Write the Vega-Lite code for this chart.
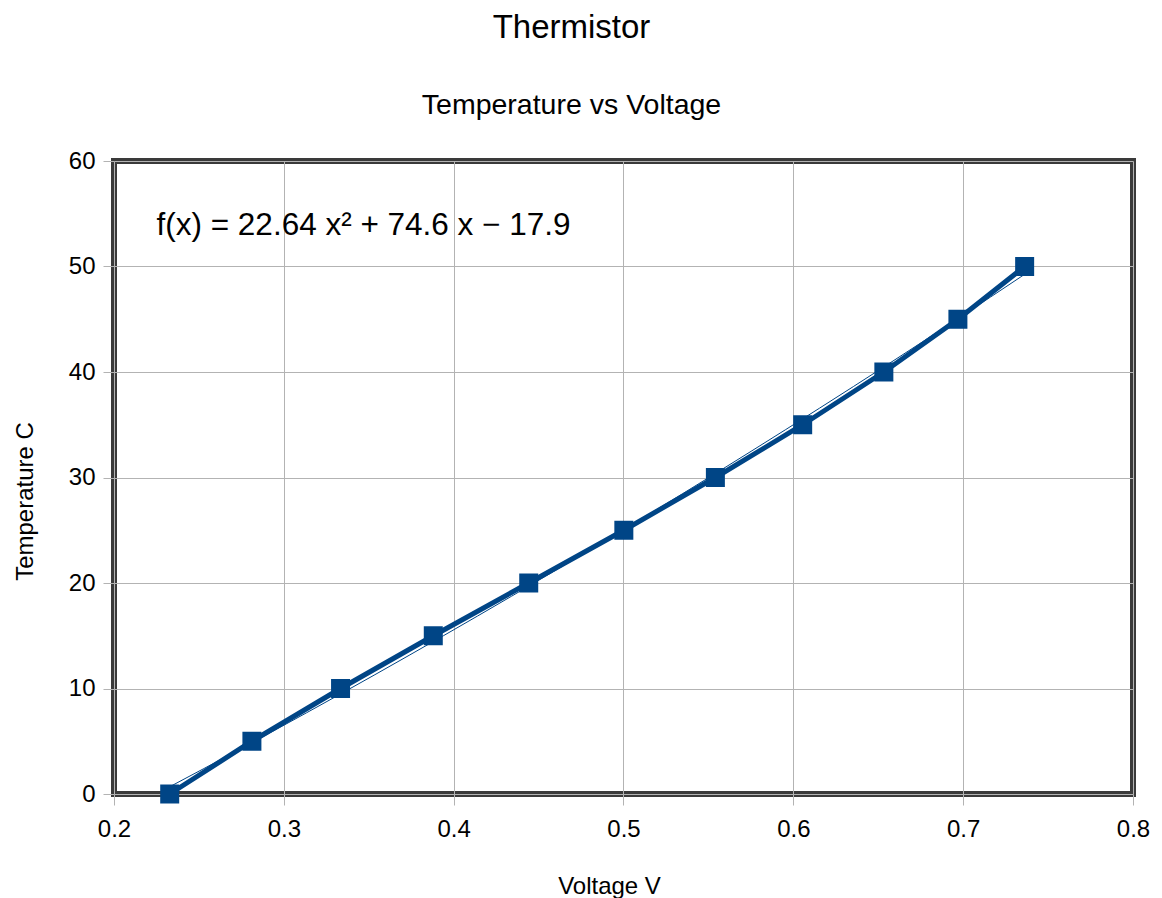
{
  "$schema": "https://vega.github.io/schema/vega-lite/v6.json",
  "width": 1019,
  "height": 633,
  "autosize": {"type": "none"},
  "padding": {"left": 114, "top": 161, "right": 29, "bottom": 104},
  "background": "white",
  "config": {
    "font": "Liberation Sans",
    "view": {"stroke": "#3a3a3a", "strokeWidth": 6},
    "axis": {
      "domain": false,
      "grid": true,
      "gridColor": "#b3b3b3",
      "gridWidth": 1,
      "gridOpacity": 1,
      "tickColor": "#b3b3b3",
      "tickSize": 11,
      "tickWidth": 1,
      "labelFontSize": 24,
      "labelColor": "black",
      "labelFont": "Liberation Sans",
      "labelFlush": false,
      "labelOverlap": false,
      "titleFontSize": 24,
      "titleFontWeight": "normal",
      "titleColor": "black",
      "titleFont": "Liberation Sans"
    }
  },
  "title": {
    "text": "Thermistor",
    "subtitle": "Temperature vs Voltage",
    "font": "Liberation Sans",
    "subtitleFont": "Liberation Sans",
    "fontSize": 33,
    "subtitleFontSize": 28.5,
    "fontWeight": "normal",
    "color": "black",
    "subtitleColor": "black",
    "anchor": "middle",
    "dx": -52,
    "offset": 30,
    "subtitlePadding": 46
  },
  "data": {
    "values": [
      {"V": 0.2328, "T": 0},
      {"V": 0.2812, "T": 5},
      {"V": 0.3334, "T": 10},
      {"V": 0.3880, "T": 15},
      {"V": 0.4442, "T": 20},
      {"V": 0.5002, "T": 25},
      {"V": 0.5541, "T": 30},
      {"V": 0.6055, "T": 35},
      {"V": 0.6533, "T": 40},
      {"V": 0.6969, "T": 45},
      {"V": 0.7362, "T": 50}
    ]
  },
  "layer": [
    {
      "transform": [{"regression": "T", "on": "V", "method": "poly", "order": 2, "extent": [0.2328, 0.7362]}],
      "mark": {"type": "line", "color": "#004586", "strokeWidth": 1},
      "encoding": {
        "x": {
          "field": "V",
          "type": "quantitative",
          "scale": {"domain": [0.2, 0.8], "nice": false, "zero": false},
          "axis": {"title": "Voltage V", "values": [0.2, 0.3, 0.4, 0.5, 0.6, 0.7, 0.8], "format": ".1f", "labelPadding": 12, "titleX": 495, "titleY": 99, "titleBaseline": "alphabetic"}
        },
        "y": {
          "field": "T",
          "type": "quantitative",
          "scale": {"domain": [0, 60], "nice": false},
          "axis": {"title": "Temperature C", "values": [0, 10, 20, 30, 40, 50, 60], "labelPadding": 8, "titlePadding": 31, "titleY": 340}
        }
      }
    },
    {
      "mark": {"type": "line", "color": "#004586", "strokeWidth": 5},
      "encoding": {
        "x": {"field": "V", "type": "quantitative"},
        "y": {"field": "T", "type": "quantitative"}
      }
    },
    {
      "mark": {"type": "point", "shape": "square", "filled": true, "size": 361, "color": "#004586", "opacity": 1},
      "encoding": {
        "x": {"field": "V", "type": "quantitative"},
        "y": {"field": "T", "type": "quantitative"}
      }
    },
    {
      "data": {"values": [{"label": "f(x) = 22.64 x² + 74.6 x − 17.9", "lx": 0.225, "ly": 53}]},
      "mark": {"type": "text", "fontSize": 31.5, "align": "left", "baseline": "alphabetic", "color": "black", "font": "Liberation Sans"},
      "encoding": {
        "x": {"field": "lx", "type": "quantitative"},
        "y": {"field": "ly", "type": "quantitative"},
        "text": {"field": "label", "type": "nominal"}
      }
    }
  ]
}
